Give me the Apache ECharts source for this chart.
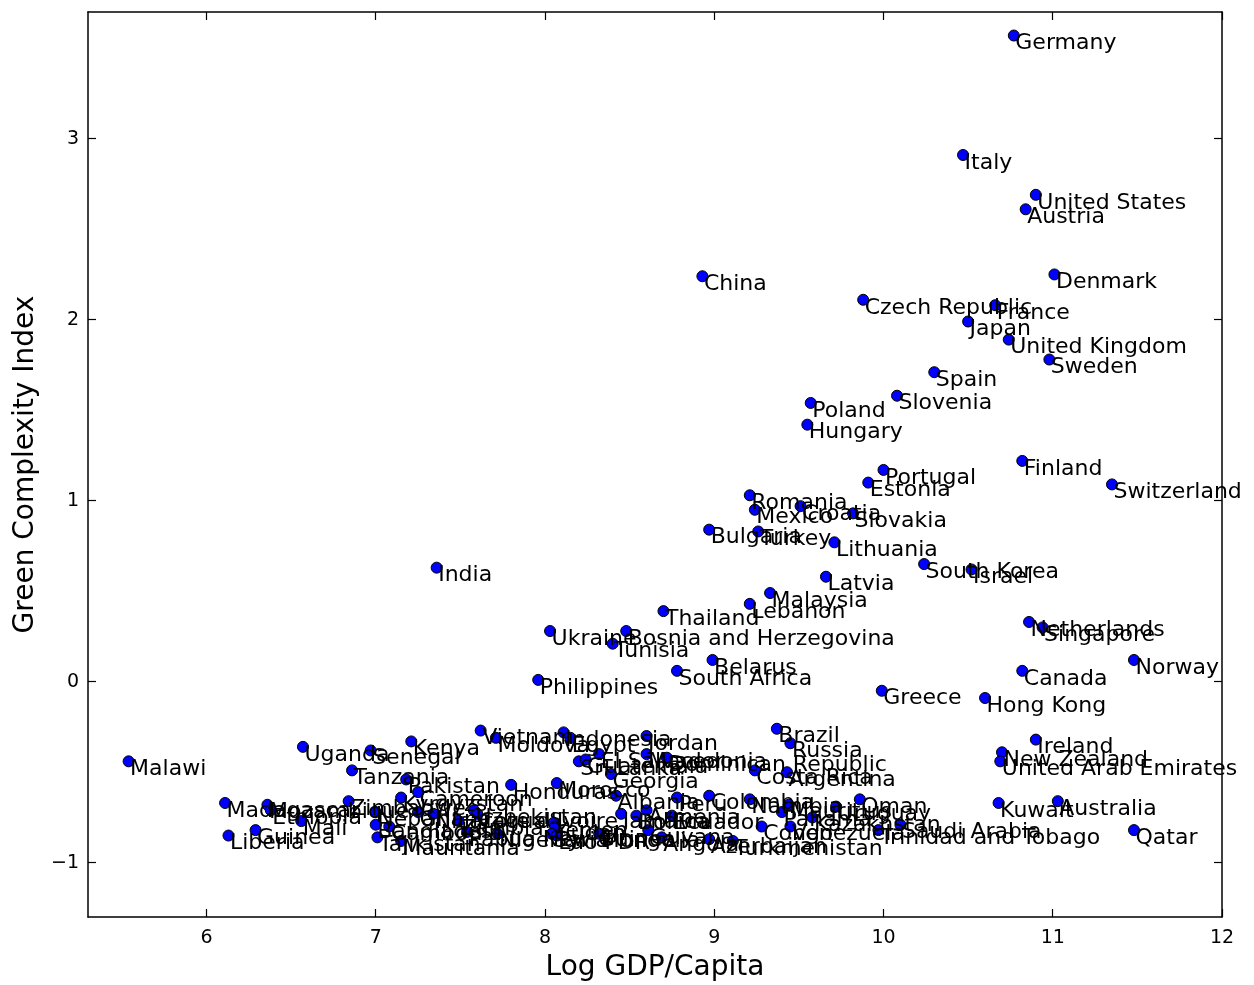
<!DOCTYPE html>
<html>
<head>
<meta charset="utf-8">
<script src="https://cdn.jsdelivr.net/npm/echarts@6/dist/echarts.min.js"></script>
<style>
html,body{margin:0;padding:0;background:#fff;}
#chart{width:1254px;height:985px;}
</style>
</head>
<body>
<div id="chart"></div>
<script>
const countries = ["Germany","Italy","United States","Austria","China","Denmark","Czech Republic","France","Japan","United Kingdom","Sweden","Spain","Slovenia","Poland","Hungary","Finland","Portugal","Estonia","Switzerland","Romania","Croatia","Mexico","Slovakia","Bulgaria","Turkey","Lithuania","South Korea","Israel","Latvia","India","Malaysia","Lebanon","Thailand","Ukraine","Bosnia and Herzegovina","Tunisia","Belarus","South Africa","Philippines","Greece","Netherlands","Singapore","Norway","Canada","Hong Kong",
"Brazil","Russia","Ireland","New Zealand","United Arab Emirates","Kuwait","Australia","Qatar","Dominican Republic","Costa Rica","Argentina","Peru","Colombia","Namibia","Mauritius","Oman","Panama","Uruguay","Kazakhstan","Saudi Arabia","Trinidad and Tobago","Venezuela","Congo","Angola","Azerbaijan","Turkmenistan","Ecuador","Jordan","Macedonia","El Salvador","Sri Lanka","Guatemala","Georgia","Egypt","Indonesia","Vietnam","Moldova","Kenya","Uganda","Senegal","Malawi","Tanzania","Pakistan","Honduras","Morocco","Albania","Zimbabwe","Madagascar","Mozambique","Ethiopia","Mali","Guinea","Liberia","Kyrgyzstan","Cameroon","Nepal","Bangladesh","Tajikistan","Cambodia","Mauritania","Ghana","Nicaragua","Zambia","Uzbekistan","Cote d'Ivoire","Papua New Guinea","Nigeria","Yemen","Sudan","Syria","Lao PDR","Mongolia","Jamaica","Bolivia","Armenia","Guyana"];

const logGdp = [10.77,10.47,10.90,10.84,8.93,11.01,9.88,10.66,10.50,10.74,10.98,10.30,10.08,9.57,9.55,10.82,10.00,9.91,11.35,9.21,9.51,9.24,9.82,8.97,9.26,9.71,10.24,10.52,9.66,7.36,9.33,9.21,8.70,8.03,8.48,8.40,8.99,8.78,7.96,9.99,10.86,10.94,11.48,10.82,10.60,
9.37,9.45,10.90,10.70,10.69,10.68,11.03,11.48,8.72,9.24,9.43,8.78,8.97,9.21,9.44,9.86,9.40,9.72,9.58,10.10,9.97,9.45,9.28,8.69,8.97,9.11,8.75,8.60,8.60,8.32,8.20,8.24,8.39,8.15,8.11,7.62,7.71,7.21,6.57,6.97,5.54,6.86,7.18,7.80,8.07,8.42,6.84,6.11,6.36,6.38,6.56,6.29,6.13,7.15,7.25,7.00,7.00,7.01,7.08,7.15,7.25,7.34,7.49,7.58,7.60,7.54,7.72,8.05,8.06,8.04,8.07,8.32,8.45,8.54,8.60,8.61];

const gci = [3.57,2.91,2.69,2.61,2.24,2.25,2.11,2.08,1.99,1.89,1.78,1.71,1.58,1.54,1.42,1.22,1.17,1.10,1.09,1.03,0.97,0.95,0.93,0.84,0.83,0.77,0.65,0.62,0.58,0.63,0.49,0.43,0.39,0.28,0.28,0.21,0.12,0.06,0.01,-0.05,0.33,0.30,0.12,0.06,-0.09,
-0.26,-0.34,-0.32,-0.39,-0.44,-0.67,-0.66,-0.82,-0.42,-0.49,-0.50,-0.64,-0.63,-0.65,-0.68,-0.65,-0.72,-0.69,-0.75,-0.79,-0.82,-0.80,-0.80,-0.86,-0.87,-0.88,-0.74,-0.30,-0.40,-0.40,-0.44,-0.43,-0.51,-0.31,-0.28,-0.27,-0.31,-0.33,-0.36,-0.38,-0.44,-0.49,-0.54,-0.57,-0.56,-0.63,-0.66,-0.67,-0.68,-0.71,-0.77,-0.82,-0.85,-0.64,-0.61,-0.72,-0.79,-0.86,-0.80,-0.88,-0.72,-0.73,-0.77,-0.71,-0.73,-0.83,-0.84,-0.78,-0.80,-0.84,-0.85,-0.84,-0.73,-0.74,-0.71,-0.82];

const xTicks = [6,7,8,9,10,11,12];
const yTicks = [-1,0,1,2,3];

const FONT = 'DejaVu Sans';
const points = countries.map((c, i) => ({ name: c, value: [logGdp[i], gci[i]] }));
const minusFmt = v => String(v).replace('-', '\u2212');

const frameAxis = {
  axisLine: { show: true, onZero: false, lineStyle: { color: '#000', width: 1.5 } },
  axisTick: { show: true, inside: true, length: 8, lineStyle: { color: '#000', width: 1.2 } },
  splitLine: { show: false }
};

const chart = echarts.init(document.getElementById('chart'), null, { renderer: 'canvas' });
chart.setOption({
  backgroundColor: '#fff',
  animation: false,
  grid: { left: 88, right: 32, top: 12, bottom: 68, containLabel: false, outerBoundsMode: 'none' },
  xAxis: [
    Object.assign({}, frameAxis, {
      type: 'value', position: 'bottom', min: 5.3, max: 12,
      axisTick: Object.assign({}, frameAxis.axisTick, { customValues: xTicks }),
      axisLabel: { customValues: xTicks, formatter: minusFmt, fontFamily: FONT, fontSize: 19, color: '#000', margin: 12 },
      name: 'Log GDP/Capita', nameLocation: 'middle', nameGap: 37,
      nameTextStyle: { fontFamily: FONT, fontSize: 28, color: '#000' }
    }),
    Object.assign({}, frameAxis, {
      type: 'value', position: 'top', min: 5.3, max: 12,
      axisTick: Object.assign({}, frameAxis.axisTick, { customValues: xTicks }),
      axisLabel: { show: false }
    })
  ],
  yAxis: [
    Object.assign({}, frameAxis, {
      type: 'value', position: 'left', min: -1.3, max: 3.7,
      axisTick: Object.assign({}, frameAxis.axisTick, { customValues: yTicks }),
      axisLabel: { customValues: yTicks, formatter: minusFmt, fontFamily: FONT, fontSize: 19, color: '#000', margin: 9 },
      name: 'Green Complexity Index', nameLocation: 'middle', nameGap: 46, nameRotate: 90,
      nameTextStyle: { fontFamily: FONT, fontSize: 28, color: '#000' }
    }),
    Object.assign({}, frameAxis, {
      type: 'value', position: 'right', min: -1.3, max: 3.7,
      axisTick: Object.assign({}, frameAxis.axisTick, { customValues: yTicks }),
      axisLabel: { show: false }
    })
  ],
  series: [{
    type: 'scatter',
    xAxisIndex: 0, yAxisIndex: 0,
    data: points,
    symbol: 'circle',
    symbolSize: 11,
    clip: false,
    itemStyle: { color: '#0000ff', borderColor: '#000', borderWidth: 1, opacity: 1 },
    label: {
      show: true,
      formatter: '{b}',
      position: [7.5, 3],
      align: 'left',
      verticalAlign: 'top',
      fontFamily: FONT,
      fontSize: 22,
      color: '#000'
    },
    emphasis: { disabled: true }
  }]
});
</script>
</body>
</html>
